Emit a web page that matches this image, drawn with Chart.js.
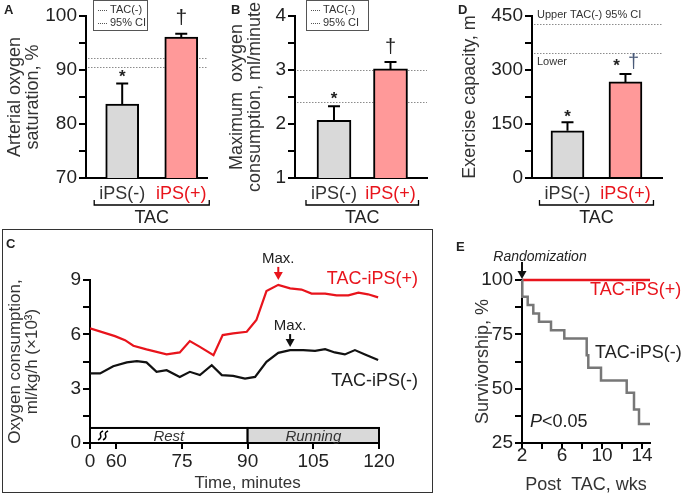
<!DOCTYPE html>
<html>
<head>
<meta charset="utf-8">
<title>iPS TAC</title>
<script src="https://cdn.jsdelivr.net/npm/chart.js@4.4.1/dist/chart.umd.min.js"></script>
<style>
  body { margin: 0; background: #fff; }
  #fig { position: relative; width: 683px; height: 496px; overflow: hidden; font-family: 'Liberation Sans', Arial, sans-serif; color: #222; }
  #fig canvas { position: absolute; }
  .letra { position: absolute; font-weight: bold; font-size: 13px; }
  .caja { position: absolute; border: 1px solid #555; font-size: 11px; line-height: 13px; padding: 2px 4px 1px 4px; color: #333; white-space: nowrap; }
  .caja i { display: inline-block; width: 9px; border-top: 1px dotted #555; vertical-align: middle; margin-right: 3px; }
  #marcoC { position: absolute; left: 2px; top: 229px; width: 429px; height: 262px; border: 1.5px solid #333; }
</style>
</head>
<body>
<div id="fig">
  <div id="marcoC"></div>
  <canvas id="gA" width="215" height="230" style="left:0;top:0"></canvas>
  <canvas id="gB" width="225" height="230" style="left:215px;top:0"></canvas>
  <canvas id="gD" width="238" height="230" style="left:445px;top:0"></canvas>
  <canvas id="gC" width="433" height="264" style="left:0;top:229px"></canvas>
  <canvas id="gE" width="228" height="246" style="left:455px;top:250px"></canvas>

  <div class="letra" style="left:4px;top:2px">A</div>
  <div class="letra" style="left:231px;top:2px">B</div>
  <div class="letra" style="left:458px;top:2px">D</div>
  <div class="letra" style="left:6px;top:236px">C</div>
  <div class="letra" style="left:456px;top:239px">E</div>

  <div class="caja" style="left:93px;top:0;width:45px"><i></i>TAC(-)<br><i></i>95% CI</div>
  <div class="caja" style="left:306px;top:0;width:53px"><i></i>TAC(-)<br><i></i>95% CI</div>
</div>

<script>
// ================== DATOS ==================

const FAM = "'Liberation Sans', Arial, sans-serif";
const ROJO = '#e8141c';

// barras (paneles A, B y D)
const grupos = ['iPS(-)', 'iPS(+)'];
const colorGrupo = ['#333333', ROJO];
const rellenoGrupo = ['#d9d9d9', '#ff9999'];

// A: saturación arterial de oxígeno, %
const satMedia = [83.7, 96.1];
const satError = [3.8, 0.6];
const satIC = [90.5, 92.3];
const satTicks = [70, 75, 80, 85, 90, 95, 100];
const satEtiq = ['70', '', '80', '', '90', '', '100'];

// B: consumo máximo de oxígeno, ml/min
const vo2Media = [2.07, 3.02];
const vo2Error = [0.26, 0.13];
const vo2IC = [2.4, 3.0];
const vo2Ticks = [1, 1.5, 2, 2.5, 3, 3.5, 4];
const vo2Etiq = ['1', '', '2', '', '3', '', '4'];

// D: capacidad de ejercicio, m
const ejMedia = [131, 267];
const ejError = [24, 22];
const ejIC = [347, 428];
const ejTicks = [0, 75, 150, 225, 300, 375, 450];
const ejEtiq = ['0', '', '150', '', '300', '', '450'];

// C: consumo de oxígeno en el tiempo (54 = "0" del eje cortado)
const tRojo = [54, 59.7, 62, 63.9, 66.9, 71.5, 74.5, 76.8, 79.1, 82.2, 84.3, 86.7, 89.8, 92, 94.3, 97, 99.7, 102.3, 104.6, 107.7, 110.3, 113, 115.3, 117.5, 119.8];
const vRojo = [6.33, 5.9, 5.68, 5.37, 5.17, 4.89, 5.0, 5.63, 5.31, 4.85, 5.96, 6.05, 6.14, 6.79, 8.39, 8.73, 8.54, 8.47, 8.25, 8.25, 8.15, 8.15, 8.3, 8.21, 8.04];
const tNegro = [54, 56.3, 59.3, 62.4, 64.7, 66.9, 69.2, 71.5, 74.5, 76.8, 79.1, 81.8, 84.1, 86.7, 89.4, 91.7, 94.3, 97, 99.7, 102.7, 105.4, 107.7, 109.9, 112.2, 114.5, 116.8, 119.8];
const vNegro = [3.84, 3.84, 4.24, 4.45, 4.52, 4.45, 3.93, 4.02, 3.65, 3.93, 3.75, 4.3, 3.75, 3.71, 3.56, 3.65, 4.48, 4.98, 5.13, 5.13, 5.09, 5.18, 5.0, 4.89, 5.13, 4.89, 4.58];
const tMax = [97, 99.7];
const tiempoTicks = [54, 60, 75, 90, 105, 120];
const tiempoEtiq = ['0', '60', '75', '90', '105', '120'];
const o2Ticks = [0, 1.5, 3, 4.5, 6, 7.5, 9];
const o2Etiq = ['0', '', '3', '', '6', '', '9'];
const fases = ['Rest', 'Running'];
const faseIni = [54, 90];
const faseFin = [90, 120];

// E: supervivencia
const semRojo = [2, 14.8];
const supRojo = [100, 100];
const semGris = [2, 2.03, 2.57, 3.13, 3.7, 4.9, 6.23, 8.47, 8.63, 9.9, 12.47, 13.2, 13.7, 14.8];
const supGris = [100, 92.3, 88.5, 84.6, 80.8, 76.9, 73.1, 65.4, 59.6, 53.8, 48.1, 40.4, 33.7, 33.7];
const semTicks = [2, 4, 6, 8, 10, 12, 14];
const semEtiq = ['2', '', '6', '', '10', '', '14'];
const supTicks = [25, 37.5, 50, 62.5, 75, 87.5, 100];
const supEtiq = ['25', '', '50', '', '75', '', '100'];


// ================== AYUDAS ==================

function texto(ctx, s, x, y, tam, color, alinear, estilo) {
    ctx.save();
    ctx.font = (estilo || '') + ' ' + tam + 'px ' + FAM;
    ctx.fillStyle = color;
    ctx.textAlign = alinear || 'center';
    ctx.textBaseline = 'middle';
    ctx.fillText(s, x, y);
    ctx.restore();
}

// flecha vertical hacia abajo, punta en y2
function flecha(ctx, x, y1, y2, color) {
    ctx.save();
    ctx.strokeStyle = color;
    ctx.fillStyle = color;
    ctx.lineWidth = 2;
    ctx.beginPath(); ctx.moveTo(x, y1); ctx.lineTo(x, y2 - 5); ctx.stroke();
    ctx.beginPath();
    ctx.moveTo(x - 4.5, y2 - 8); ctx.lineTo(x + 4.5, y2 - 8); ctx.lineTo(x, y2);
    ctx.closePath(); ctx.fill();
    ctx.restore();
}

function ejeY(vals, etiq, ancho, titulo, padTit, tamTit) {
    return {
        min: vals[0],
        max: vals[vals.length - 1],
        afterFit: s => { s.width = ancho; },
        afterBuildTicks: s => { s.ticks = vals.map(v => ({ value: v })); },
        ticks: {
            autoSkip: false, padding: 2, color: '#222',
            font: { size: 19, family: FAM, lineHeight: 1 },
            callback: (v, i) => etiq[i]
        },
        grid: { drawOnChartArea: false, tickLength: 7, color: '#000', lineWidth: 2 },
        border: { color: '#000', width: 2 },
        title: {
            display: true, text: titulo, color: '#333',
            padding: { top: padTit, bottom: 0 },
            font: { size: tamTit || 18, family: FAM, lineHeight: 1 }
        }
    };
}

const sinLeyenda = { legend: { display: false }, tooltip: { enabled: false } };


// ================== BARRAS (A, B, D) ==================

function graficoBarras(id, media, error, ic, vals, etiq, cfg) {
    const extras = {
        id: 'extras',
        beforeDatasetsDraw(chart) {
            const { ctx, chartArea: a, scales: { y } } = chart;
            ctx.save();
            ctx.strokeStyle = '#8c8c8c';
            ctx.lineWidth = 1;
            ctx.setLineDash([1.5, 1.5]);
            ic.forEach(v => {
                const py = Math.round(y.getPixelForValue(v)) + 0.5;
                ctx.beginPath(); ctx.moveTo(a.left + 2, py); ctx.lineTo(a.right, py); ctx.stroke();
            });
            ctx.restore();
        },
        afterDatasetsDraw(chart) {
            const { ctx, chartArea: a, scales: { y } } = chart;
            const barras = chart.getDatasetMeta(0).data;
            ctx.save();
            ctx.strokeStyle = '#000';
            ctx.lineWidth = 2;
            // barras de error
            const tops = barras.map((b, i) => {
                const top = y.getPixelForValue(media[i] + error[i]);
                ctx.beginPath();
                ctx.moveTo(b.x, b.y); ctx.lineTo(b.x, top);
                ctx.moveTo(b.x - 6, top); ctx.lineTo(b.x + 6, top);
                ctx.stroke();
                return top;
            });
            cfg.simbolos.forEach(s => {
                texto(ctx, s.t, barras[s.i].x + (s.dx || 0), tops[s.i] + s.dy, s.tam, s.color || '#222', 'center', s.estilo);
            });
            // corchete TAC
            const x1 = barras[0].x - 28, x2 = barras[1].x + 28, yb = a.bottom + 27;
            ctx.lineWidth = 1.3;
            ctx.beginPath();
            ctx.moveTo(x1, yb - 5); ctx.lineTo(x1, yb); ctx.lineTo(x2, yb); ctx.lineTo(x2, yb - 5);
            ctx.stroke();
            texto(ctx, 'TAC', (x1 + x2) / 2, a.bottom + 40, 18, '#222');
            if (cfg.extra) cfg.extra(ctx, a, y);
            ctx.restore();
        }
    };

    return new Chart(document.getElementById(id), {
        type: 'bar',
        data: {
            datasets: [{
                data: media.map((v, i) => ({ x: i, y: v })),
                backgroundColor: rellenoGrupo,
                borderColor: '#000',
                borderWidth: 2,
                borderSkipped: 'bottom',
                barThickness: cfg.grosor
            }]
        },
        options: {
            responsive: false,
            animation: false,
            layout: { padding: cfg.padding },
            plugins: sinLeyenda,
            scales: {
                x: {
                    type: 'linear', offset: false, min: cfg.xMin, max: cfg.xMax,
                    afterFit: s => { s.height = 52; },
                    afterBuildTicks: s => { s.ticks = grupos.map((g, i) => ({ value: i })); },
                    ticks: {
                        autoSkip: false, maxRotation: 0, padding: 7,
                        color: c => colorGrupo[c.index],
                        font: { size: 18, family: FAM, lineHeight: 1 },
                        callback: (v, i) => grupos[i]
                    },
                    grid: { display: false, drawTicks: false },
                    border: { color: '#000', width: 2 }
                },
                y: ejeY(vals, etiq, cfg.anchoY, cfg.titulo, cfg.padTit)
            }
        },
        plugins: [extras]
    });
}

graficoBarras('gA', satMedia, satError, satIC, satTicks, satEtiq, {
    anchoY: 86, titulo: ['Arterial oxygen', 'saturation, %'], padTit: 6,
    xMin: -0.613, xMax: 1.437, grosor: 33,
    padding: { top: 16, right: 7, bottom: 0, left: 0 },
    simbolos: [
        { t: '*', i: 0, dy: -6, tam: 17, estilo: 'bold' },
        { t: '†', i: 1, dy: -16, tam: 21 }
    ]
});

graficoBarras('gB', vo2Media, vo2Error, vo2IC, vo2Ticks, vo2Etiq, {
    anchoY: 80, titulo: ['Maximum  oxygen', 'consumption, ml/minute'], padTit: 13,
    xMin: -0.69, xMax: 1.646, grosor: 34,
    padding: { top: 16, right: 13, bottom: 0, left: 0 },
    simbolos: [
        { t: '*', i: 0, dy: -7, tam: 17, estilo: 'bold' },
        { t: '†', i: 1, dy: -14, tam: 20 }
    ]
});

graficoBarras('gD', ejMedia, ejError, ejIC, ejTicks, ejEtiq, {
    anchoY: 87, titulo: 'Exercise capacity, m', padTit: 16,
    xMin: -0.612, xMax: 1.63, grosor: 33,
    padding: { top: 16, right: 21, bottom: 0, left: 0 },
    simbolos: [
        { t: '*', i: 0, dy: -5, tam: 17, estilo: 'bold' },
        { t: '*', i: 1, dx: -9, dy: -8, tam: 17, estilo: 'bold' },
        { t: '†', i: 1, dx: 8, dy: -11, tam: 20, color: '#4a5a78' }
    ],
    extra: (ctx, a, y) => {
        texto(ctx, 'Upper TAC(-) 95% CI', a.left + 5, y.getPixelForValue(ejIC[1]) - 9, 11, '#333', 'left');
        texto(ctx, 'Lower', a.left + 5, y.getPixelForValue(ejIC[0]) + 9, 11, '#333', 'left');
    }
});


// ================== PANEL C ==================

const extrasC = {
    id: 'extrasC',
    afterDatasetsDraw(chart) {
        const { ctx, chartArea: a, scales: { x, y } } = chart;
        ctx.save();

        // bloque reposo / carrera
        const b = y.getPixelForValue(0), t = y.getPixelForValue(0.83);
        ctx.lineWidth = 2;
        ctx.strokeStyle = '#000';
        fases.forEach((f, i) => {
            const l = x.getPixelForValue(faseIni[i]), r = x.getPixelForValue(faseFin[i]);
            ctx.fillStyle = i ? '#d9d9d9' : '#fff';
            ctx.fillRect(l, t, r - l, b - t);
            ctx.strokeRect(l, t, r - l, b - t);
            texto(ctx, f, (l + r) / 2, (t + b) / 2 + 1, 15, '#333', 'center', 'italic');
        });

        // corte del eje
        const sx = x.getPixelForValue(56.3);
        ctx.lineWidth = 1.6;
        [0, 5].forEach(d => {
            ctx.beginPath();
            ctx.moveTo(sx + d + 3, t + 3);
            ctx.bezierCurveTo(sx + d - 4, t + 6, sx + d + 5, b - 7, sx + d - 2, b - 3);
            ctx.stroke();
        });

        // flechas "Max."
        [[tRojo, vRojo, ROJO, 5], [tNegro, vNegro, '#111', 3]].forEach((s, k) => {
            const i = s[0].indexOf(tMax[k]);
            const px = x.getPixelForValue(s[0][i]);
            const punta = y.getPixelForValue(s[1][i]) - s[3];
            flecha(ctx, px, punta - 13, punta, s[2]);
            texto(ctx, 'Max.', px, punta - 21, 15, '#222');
        });

        texto(ctx, 'TAC-iPS(+)', x.getPixelForValue(120) + 39, y.getPixelForValue(9.08), 18, ROJO, 'right');
        texto(ctx, 'TAC-iPS(-)', x.getPixelForValue(120) + 39, y.getPixelForValue(3.4), 18, '#222', 'right');
        texto(ctx, 'Time, minutes', x.getPixelForValue(90), a.bottom + 40, 17, '#333');
        ctx.restore();
    }
};

new Chart(document.getElementById('gC'), {
    type: 'line',
    data: {
        datasets: [
            { data: tRojo.map((t, i) => ({ x: t, y: vRojo[i] })), borderColor: ROJO, borderWidth: 2.2, pointRadius: 0, tension: 0 },
            { data: tNegro.map((t, i) => ({ x: t, y: vNegro[i] })), borderColor: '#111', borderWidth: 2.2, pointRadius: 0, tension: 0 }
        ]
    },
    options: {
        responsive: false,
        animation: false,
        layout: { padding: { top: 51, right: 54, bottom: 0, left: 0 } },
        plugins: sinLeyenda,
        scales: {
            x: {
                type: 'linear', min: 54, max: 120,
                afterFit: s => { s.height = 50; },
                afterBuildTicks: s => { s.ticks = tiempoTicks.map(v => ({ value: v })); },
                ticks: {
                    autoSkip: false, maxRotation: 0, padding: 3, color: '#222',
                    font: { size: 19, family: FAM, lineHeight: 1 },
                    callback: (v, i) => tiempoEtiq[i]
                },
                grid: { drawOnChartArea: false, tickLength: 6, color: '#000', lineWidth: 2 },
                border: { color: '#000', width: 2 }
            },
            y: ejeY(o2Ticks, o2Etiq, 90, ['Oxygen consumption,', 'ml/kg/h (×10³)'], 7, 17)
        }
    },
    plugins: [extrasC]
});


// ================== PANEL E ==================

const extrasE = {
    id: 'extrasE',
    afterDraw(chart) {
        const { ctx, scales: { x, y } } = chart;
        const x0 = x.getPixelForValue(2), y100 = y.getPixelForValue(100);
        texto(ctx, 'Randomization', x0 + 18, y100 - 23, 14, '#222', 'center', 'italic');
        flecha(ctx, x0, y100 - 18, y100 - 1, '#111');
        texto(ctx, 'TAC-iPS(+)', x.getPixelForValue(8.8), y.getPixelForValue(95.4), 18, ROJO, 'left');
        texto(ctx, 'TAC-iPS(-)', x.getPixelForValue(9.3), y.getPixelForValue(66.4), 18, '#222', 'left');

        // P<0.05 con P en cursiva
        ctx.save();
        ctx.font = 'italic 18px ' + FAM;
        const anchoP = ctx.measureText('P').width;
        ctx.restore();
        const px = x0 + 8, py = y.getPixelForValue(34.7);
        texto(ctx, 'P', px, py, 18, '#222', 'left', 'italic');
        texto(ctx, '<0.05', px + anchoP, py, 18, '#222', 'left');
    }
};

new Chart(document.getElementById('gE'), {
    type: 'line',
    data: {
        datasets: [
            { data: semGris.map((w, i) => ({ x: w, y: supGris[i] })), stepped: 'before', borderColor: '#777', borderWidth: 2.5, pointRadius: 0, clip: false },
            { data: semRojo.map((w, i) => ({ x: w, y: supRojo[i] })), borderColor: ROJO, borderWidth: 2.5, pointRadius: 0, clip: false }
        ]
    },
    options: {
        responsive: false,
        animation: false,
        layout: { padding: { top: 30, right: 33, bottom: 0, left: 0 } },
        plugins: sinLeyenda,
        scales: {
            x: {
                type: 'linear', min: 2, max: 14.8,
                afterFit: s => { s.height = 53; },
                afterBuildTicks: s => { s.ticks = semTicks.map(v => ({ value: v })); },
                ticks: {
                    autoSkip: false, maxRotation: 0, padding: -3, color: '#222',
                    font: { size: 19, family: FAM, lineHeight: 1 },
                    callback: (v, i) => semEtiq[i]
                },
                grid: { drawOnChartArea: false, tickLength: 6, color: '#000', lineWidth: 2 },
                border: { color: '#000', width: 2 },
                title: {
                    display: true, text: 'Post  TAC, wks', color: '#333',
                    padding: { top: 0, bottom: 2 },
                    font: { size: 18, family: FAM, lineHeight: 1 }
                }
            },
            y: ejeY(supTicks, supEtiq, 67, 'Survivorship, %', 19)
        }
    },
    plugins: [extrasE]
});
</script>
</body>
</html>
